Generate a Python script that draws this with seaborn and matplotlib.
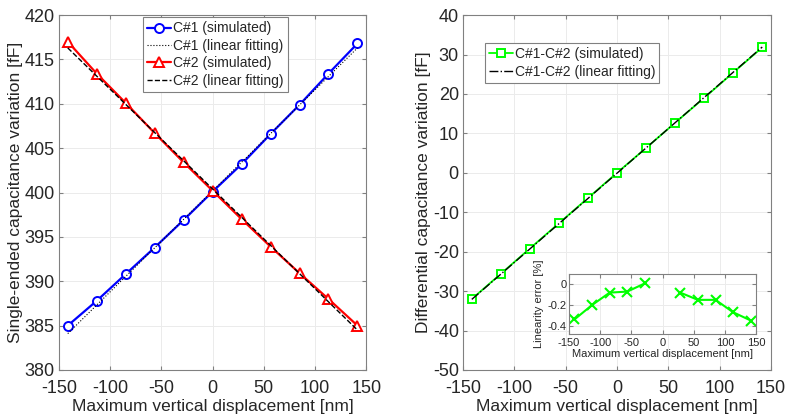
import numpy as np
import pandas as pd
import matplotlib
matplotlib.use("Agg")
import matplotlib.pyplot as plt
import seaborn as sns

# displacement steps [nm]
disp = [-141.4, -113.1, -84.9, -56.6, -28.3, 0.0, 28.3, 56.6, 84.9, 113.1, 141.4]

# single-ended capacitances [fF]
c1_sim = [385.0, 387.8, 390.8, 393.8, 396.9, 400.1, 403.2, 406.6, 409.9, 413.4, 416.8]
c2_sim = [417.0, 413.4, 410.1, 406.7, 403.4, 400.2, 397.0, 393.9, 390.9, 388.0, 385.0]
fit_x = [-141.4, 141.4]
c1_fit = [384.1, 416.3]
c2_fit = [416.3, 384.5]

# differential capacitance [fF]
diff_sim = [-32.0, -25.6, -19.2, -12.8, -6.4, 0.0, 6.3, 12.7, 19.0, 25.4, 31.8]
diff_fit = [-32.1, 31.9]

# linearity error [%] (undefined at zero displacement)
lin_err = [-0.34, -0.20, -0.08, -0.07, 0.01, np.nan, -0.08, -0.15, -0.15, -0.27, -0.35]

sns.set_style("whitegrid")
plt.rcParams["font.family"] = ["Liberation Sans", "DejaVu Sans"]
txt = "#262626"
plt.rcParams.update({
    "axes.unicode_minus": False,
    "axes.edgecolor": "#808080",
    "axes.linewidth": 0.8,
    "grid.color": "#ebebeb",
    "grid.linewidth": 0.7,
    "xtick.color": txt,
    "ytick.color": txt,
    "axes.labelcolor": txt,
    "xtick.direction": "in",
    "ytick.direction": "in",
    "xtick.major.size": 3,
    "ytick.major.size": 3,
})

fig = plt.figure(figsize=(7.86, 4.19), dpi=100)
ax1 = fig.add_axes([0.075, 0.117, 0.391, 0.847])
ax2 = fig.add_axes([0.589, 0.117, 0.392, 0.847])


def style_axes(ax, fs, xpad=4, ypad=4):
    ax.tick_params(axis="both", which="both", bottom=True, top=True, left=True, right=True,
                   labelsize=fs, color="#808080", width=0.8)
    ax.tick_params(axis="x", pad=xpad)
    ax.tick_params(axis="y", pad=ypad)
    for s in ax.spines.values():
        s.set_visible(True)
        s.set_color("#808080")


leg_kw = dict(frameon=True, fancybox=False, edgecolor="#808080", framealpha=1,
              borderpad=0.3, handlelength=1.7, handletextpad=0.15, labelspacing=0.25,
              borderaxespad=0)

# ---- left panel
sns.lineplot(x=disp, y=c1_sim, ax=ax1, color="blue", lw=1.6, marker="o", ms=6.5,
             mfc="white", mec="blue", mew=1.4, label="C#1 (simulated)")
sns.lineplot(x=fit_x, y=c1_fit, ax=ax1, color="black", lw=0.8, ls=":", label="C#1 (linear fitting)")
sns.lineplot(x=disp, y=c2_sim, ax=ax1, color="red", lw=1.6, marker="^", ms=7.5,
             mfc="white", mec="red", mew=1.4, label="C#2 (simulated)")
sns.lineplot(x=fit_x, y=c2_fit, ax=ax1, color="black", lw=1, ls="--", label="C#2 (linear fitting)")
ax1.set_xlim(-150, 150)
ax1.set_ylim(380, 420)
ax1.set_xticks(np.arange(-150, 151, 50))
ax1.set_yticks(np.arange(380, 421, 5))
ax1.set_xlabel("Maximum vertical displacement [nm]", fontsize=12.5, labelpad=2)
ax1.set_ylabel("Single-ended capacitance variation [fF]", fontsize=12.5, labelpad=1)
style_axes(ax1, 13, xpad=7, ypad=3)
leg = ax1.legend(loc="upper left", bbox_to_anchor=(0.274, 0.994), fontsize=10, **leg_kw)
leg.get_frame().set_linewidth(0.8)

# ---- right panel
sns.lineplot(x=disp, y=diff_sim, ax=ax2, color="#00ff00", lw=1.3, marker="s", ms=5.5,
             mfc="white", mec="#00ff00", mew=1.4, label="C#1-C#2 (simulated)")
sns.lineplot(x=fit_x, y=diff_fit, ax=ax2, color="black", lw=1, ls="-.", label="C#1-C#2 (linear fitting)")
ax2.set_xlim(-150, 150)
ax2.set_ylim(-50, 40)
ax2.set_xticks(np.arange(-150, 151, 50))
ax2.set_yticks(np.arange(-50, 41, 10))
ax2.set_xlabel("Maximum vertical displacement [nm]", fontsize=12.5, labelpad=2)
ax2.set_ylabel("Differential capacitance variation [fF]", fontsize=12.5, labelpad=1)
style_axes(ax2, 13, xpad=7, ypad=3)
leg2 = ax2.legend(loc="upper left", bbox_to_anchor=(0.071, 0.921), fontsize=10, **leg_kw)
leg2.get_frame().set_linewidth(0.8)

# ---- inset
ins = fig.add_axes([0.724, 0.203, 0.238, 0.143])
err = pd.DataFrame({"disp": disp, "err": lin_err})
neg = err[err["disp"] < 0]
pos = err[err["disp"] > 0]
for part in (neg, pos):
    sns.lineplot(data=part, x="disp", y="err", ax=ins, color="#00ff00", lw=1.5,
                 marker="x", ms=7.5, mec="#00ff00", mew=1.5)
ins.set_xlim(-150, 150)
ins.set_ylim(-0.48, 0.1)
ins.set_xticks(np.arange(-150, 151, 50))
ins.set_yticks([-0.4, -0.2, 0])
ins.set_yticklabels(["-0.4", "-0.2", "0"])
ins.set_xlabel("Maximum vertical displacement [nm]", fontsize=8, labelpad=1)
ins.set_ylabel("Linearity error [%]", fontsize=8, labelpad=2)
style_axes(ins, 8, xpad=3, ypad=2)

fig.savefig("out.png", dpi=100)
